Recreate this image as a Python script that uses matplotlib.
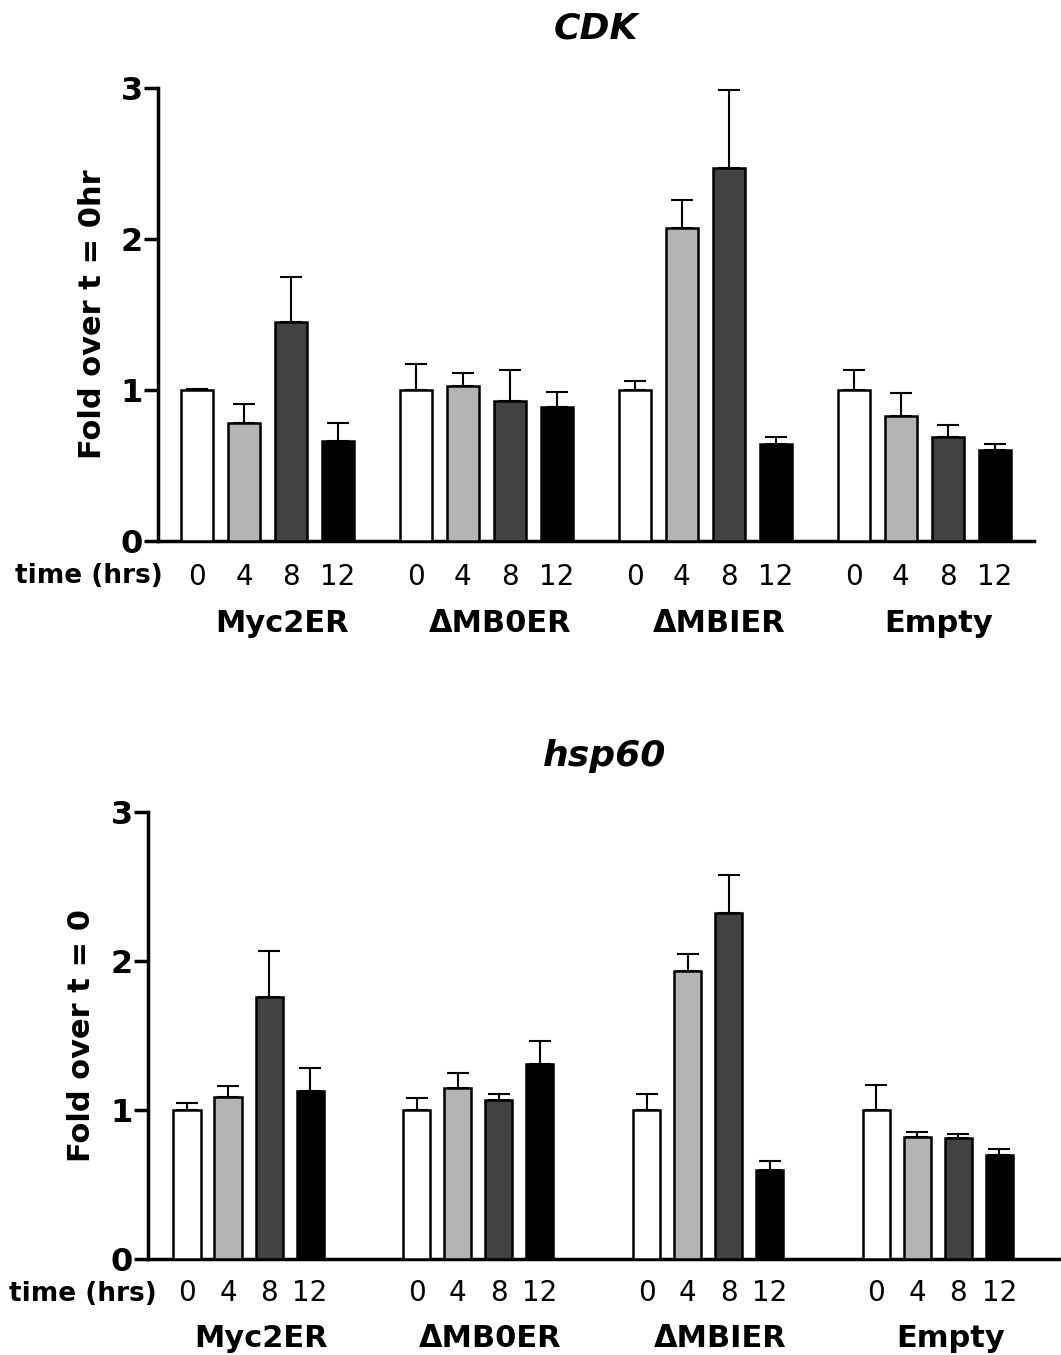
import numpy as np
import matplotlib
matplotlib.use("Agg")
import matplotlib.pyplot as plt
from matplotlib.transforms import blended_transform_factory

groups = ["Myc2ER", "\u0394MB0ER", "\u0394MBIER", "Empty"]
times = ["0", "4", "8", "12"]
colors = ["#ffffff", "#b4b4b4", "#424242", "#000000"]

# CDK panel
cdk_vals = [[1.00, 0.78, 1.45, 0.66],
            [1.00, 1.03, 0.93, 0.89],
            [1.00, 2.07, 2.47, 0.64],
            [1.00, 0.83, 0.69, 0.60]]
cdk_err = [[0.01, 0.13, 0.30, 0.12],
           [0.17, 0.08, 0.20, 0.10],
           [0.06, 0.19, 0.52, 0.05],
           [0.13, 0.15, 0.08, 0.04]]

# hsp60 panel
hsp_vals = [[1.00, 1.09, 1.76, 1.13],
            [1.00, 1.15, 1.07, 1.31],
            [1.00, 1.93, 2.32, 0.60],
            [1.00, 0.82, 0.81, 0.70]]
hsp_err = [[0.05, 0.07, 0.31, 0.15],
           [0.08, 0.10, 0.04, 0.15],
           [0.11, 0.12, 0.26, 0.06],
           [0.17, 0.03, 0.03, 0.04]]


def draw_panel(ax, vals, errs, title, ylabel, gap, width, xlim,
               tick_pad, group_y, time_x, time_y, title_pad):
    trans = blended_transform_factory(ax.transData, ax.transAxes)
    all_x = []
    for g, name in enumerate(groups):
        x = g * gap + np.arange(4)
        all_x.extend(x)
        ax.bar(x, vals[g], width=width, color=colors, edgecolor="black",
               linewidth=1.8, zorder=3)
        ax.errorbar(x, vals[g], yerr=[np.zeros(4), errs[g]], fmt="none",
                    ecolor="black", elinewidth=1.5, capsize=8, capthick=1.5,
                    zorder=2)
        ax.text(x.mean() + 0.3, group_y, name, transform=trans, ha="center",
                va="center", fontsize=22, fontweight="bold")
    ax.set_xticks(all_x)
    ax.set_xticklabels(times * 4, fontsize=20)
    ax.tick_params(axis="x", length=0, pad=tick_pad)
    ax.text(time_x, time_y, "time (hrs)", transform=ax.transAxes,
            ha="right", va="center", fontsize=19, fontweight="bold")
    ax.set_xlim(*xlim)
    ax.set_ylim(0, 3)
    ax.set_yticks([0, 1, 2, 3])
    ax.set_yticklabels(["0", "1", "2", "3"], fontsize=23, fontweight="bold")
    ax.tick_params(axis="y", length=10, width=2.5, pad=1)
    ax.set_ylabel(ylabel, fontsize=22, fontweight="bold", labelpad=10)
    ax.set_title(title, fontsize=26, fontweight="bold", style="italic",
                 pad=title_pad)
    for s in ["top", "right"]:
        ax.spines[s].set_visible(False)
    for s in ["left", "bottom"]:
        ax.spines[s].set_linewidth(2.5)


fig = plt.figure(figsize=(10.61, 13.55), dpi=100)
ax1 = fig.add_axes([0.149, 0.6007, 0.826, 0.3343])
ax2 = fig.add_axes([0.1395, 0.0708, 0.8605, 0.33])

draw_panel(ax1, cdk_vals, cdk_err, "CDK", "Fold over t = 0hr",
           gap=4.66, width=0.68, xlim=(-0.83, 17.83),
           tick_pad=16, group_y=-0.182, time_x=0.005, time_y=-0.078,
           title_pad=36)
draw_panel(ax2, hsp_vals, hsp_err, "hsp60", "Fold over t = 0",
           gap=5.6, width=0.66, xlim=(-0.95, 21.3),
           tick_pad=14, group_y=-0.178, time_x=0.01, time_y=-0.078,
           title_pad=33)

fig.savefig("out.png", dpi=100)
